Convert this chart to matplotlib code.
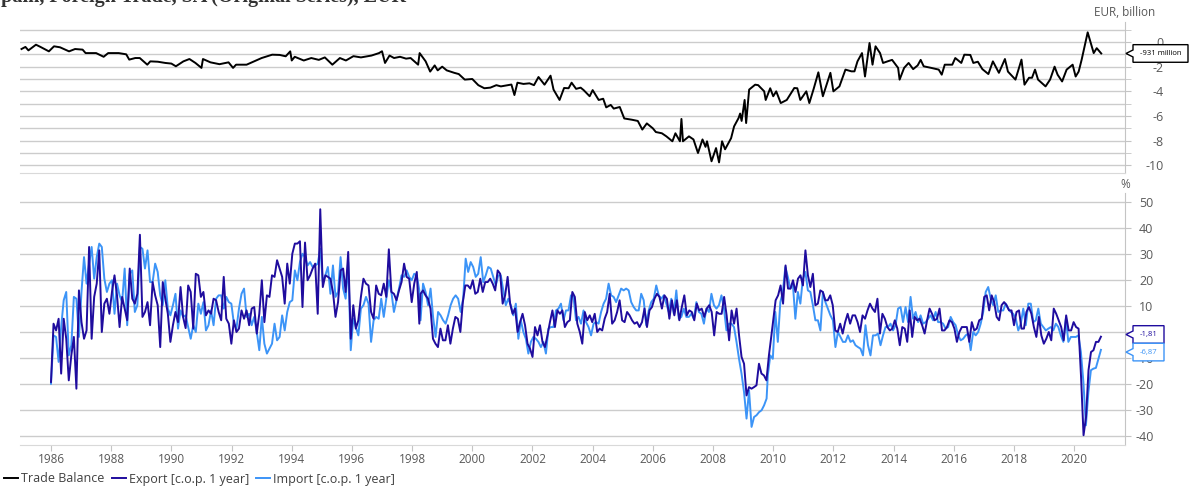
import numpy as np
import matplotlib
matplotlib.use('Agg')
import matplotlib.pyplot as plt
from matplotlib.patches import Polygon
from matplotlib.transforms import IdentityTransform

plt.rcParams['font.family'] = ['Open Sans', 'DejaVu Sans']
plt.rcParams['axes.unicode_minus'] = False

# Trade balance, EUR billion (decimal year, value)
tb_years = [1985.02, 1985.15, 1985.25, 1985.5, 1985.65, 1985.93, 1986.1, 1986.3, 1986.6, 1986.8,
            1987.05, 1987.15, 1987.5, 1987.75, 1987.9, 1988.25, 1988.5, 1988.6, 1988.8, 1988.95,
            1989.2, 1989.3, 1989.55, 1989.8, 1990.0, 1990.15, 1990.4, 1990.6, 1990.8, 1991.0,
            1991.05, 1991.3, 1991.6, 1991.9, 1992.05, 1992.15, 1992.5, 1992.75, 1993.0, 1993.35,
            1993.6, 1993.8, 1993.95, 1994.0, 1994.1, 1994.4, 1994.65, 1994.9, 1995.1, 1995.35,
            1995.6, 1995.8, 1996.05, 1996.3, 1996.65, 1996.9, 1997.0, 1997.1, 1997.25, 1997.4,
            1997.6, 1997.8, 1997.95, 1998.2, 1998.25, 1998.45, 1998.6, 1998.75, 1998.85, 1999.0,
            1999.15, 1999.4, 1999.55, 1999.75, 2000.0, 2000.2, 2000.4, 2000.6, 2000.8, 2000.95,
            2001.3, 2001.4, 2001.5, 2001.7, 2001.9, 2002.05, 2002.2, 2002.4, 2002.6, 2002.7,
            2002.9, 2003.05, 2003.2, 2003.3, 2003.45, 2003.6, 2003.7, 2003.9, 2004.0, 2004.2,
            2004.35, 2004.45, 2004.6, 2004.7, 2004.9, 2005.05, 2005.3, 2005.5, 2005.65, 2005.8,
            2006.0, 2006.1, 2006.3, 2006.45, 2006.65, 2006.75, 2006.9, 2006.95, 2007.0, 2007.2,
            2007.35, 2007.5, 2007.65, 2007.75, 2007.8, 2007.95, 2008.1, 2008.2, 2008.3, 2008.4,
            2008.6, 2008.7, 2008.85, 2008.9, 2008.95, 2009.05, 2009.1, 2009.2, 2009.4, 2009.5,
            2009.7, 2009.75, 2009.9, 2010.0, 2010.1, 2010.25, 2010.45, 2010.7, 2010.8, 2010.9,
            2011.1, 2011.2, 2011.35, 2011.5, 2011.65, 2011.9, 2012.0, 2012.2, 2012.4, 2012.6,
            2012.7, 2012.8, 2012.95, 2013.05, 2013.2, 2013.3, 2013.4, 2013.55, 2013.65, 2013.8,
            2013.95, 2014.15, 2014.2, 2014.35, 2014.5, 2014.65, 2014.8, 2014.9, 2015.0, 2015.25,
            2015.5, 2015.6, 2015.7, 2015.95, 2016.05, 2016.25, 2016.35, 2016.55, 2016.65, 2016.8,
            2016.95, 2017.15, 2017.3, 2017.5, 2017.7, 2017.8, 2018.05, 2018.25, 2018.35, 2018.5,
            2018.6, 2018.7, 2018.8, 2019.05, 2019.2, 2019.35, 2019.45, 2019.6, 2019.75, 2019.95,
            2020.05, 2020.15, 2020.25, 2020.45, 2020.65, 2020.75, 2020.9]
tb_values = [-0.57, -0.4, -0.68, -0.22, -0.4, -0.76, -0.35, -0.43, -0.76, -0.57,
             -0.62, -0.9, -0.9, -1.2, -0.9, -0.9, -1.0, -1.43, -1.3, -1.3,
             -1.84, -1.57, -1.6, -1.7, -1.75, -1.97, -1.57, -1.38, -1.7, -2.1,
             -1.38, -1.65, -1.8, -1.65, -2.1, -1.84, -1.84, -1.57, -1.3, -1.03,
             -1.05, -1.16, -0.76, -1.5, -1.2, -1.5, -1.3, -1.45, -1.25, -1.84,
             -1.3, -1.5, -1.15, -1.25, -1.1, -0.9, -0.75, -1.7, -1.1, -1.3,
             -1.2, -1.35, -1.3, -1.84, -0.9, -1.57, -2.4, -1.9, -2.3, -2.0,
             -2.3, -2.5, -2.6, -3.05, -3.0, -3.5, -3.75, -3.7, -3.5, -3.6,
             -3.45, -4.3, -3.3, -3.4, -3.35, -3.5, -2.84, -3.46, -2.73, -3.86,
             -4.7, -3.73, -3.75, -3.3, -3.8, -3.7, -3.9, -4.4, -3.9, -4.7,
             -4.6, -5.3, -5.1, -5.4, -5.27, -6.2, -6.3, -6.4, -7.1, -6.6,
             -7.0, -7.3, -7.4, -7.65, -8.05, -7.4, -8.05, -6.24, -8.05, -7.65,
             -7.9, -9.0, -7.9, -8.5, -8.05, -9.67, -8.6, -9.76, -8.05, -8.7,
             -7.8, -6.84, -6.16, -5.8, -6.4, -4.7, -6.57, -3.86, -3.46, -3.5,
             -4.0, -4.7, -3.75, -4.4, -4.0, -4.95, -4.7, -3.73, -3.75, -4.7,
             -4.0, -4.95, -3.75, -2.46, -4.4, -2.5, -4.0, -3.6, -2.24, -2.38,
             -2.38, -1.57, -0.9, -2.8, -0.08, -1.84, -0.35, -0.9, -1.7, -1.57,
             -1.45, -2.1, -3.05, -2.1, -1.7, -2.2, -1.9, -1.45, -1.97, -2.1,
             -2.24, -2.65, -1.84, -1.84, -1.3, -1.7, -1.03, -1.05, -1.7, -1.6,
             -2.2, -2.6, -1.57, -2.5, -1.38, -2.4, -3.05, -1.43, -3.46, -2.9,
             -2.9, -2.24, -3.05, -3.6, -3.05, -2.0, -2.65, -3.2, -2.24, -1.84,
             -2.8, -2.4, -1.43, 0.78, -0.9, -0.5, -0.931]

# Export / Import, change over 1 year (%), monthly readings in three stretches
export_spans = [(1986.0, 1998.24), (1998.28, 2009.94), (2010.08, 2020.89)]
export_a = [-19.2, 3.2, 0.6, 5.1, -16, 5.1, -2.6, -18.6, -9, -1.9, -21.8, 16, 3.8, -2.6, 0.6, 32.7,
            -2.6, 13.5, 18.6, 31.4, 0, 10.9, 12.8, 7, 15.4, 21.8, 14, 1.9, 13.5, 9, 4.5, 24.4, 12.8,
            10.9, 14.7, 37.4, 5.8, 7.7, 11.5, 2.6, 19.2, 14.1, 10.3, -5.8, 19.2, 12.8, 7, -3.8, 2.6,
            7.7, 3.8, 17.3, 5.8, 1.5, 17.9, 15.4, 1.3, 22.4, 21.8, 13.5, 15.4, 6.4, 8.3, 7, 12.8,
            12.2, 7.7, 4.5, 21.2, 5.1, 3.2, -4.5, 4.5, 0, 1.3, 8.3, 5.1, 8.3, 2.6, 9, 9.6, -0.6, 7,
            19.9, 3.8, 14.1, 13.5, 21.8, 21.2, 27.6, 24.4, 21.2, 10.9, 26.3, 18.6, 30.1, 34, 34,
            34.9, 9.6, 34.4, 19.9, 21.8, 24.4, 26.3, 7, 47.2, 17.3, 21.8, 21.2, 20.5, 15.4, 5.8,
            11.5, 23.7, 24.4, 15.4, 30.8, -2.6, 10.3, 1.3, 4.5, 13.5, 20.5, 18.6, 17.9, 7.7, 5.1,
            17.9, 14.7, 14.1, 18.6, 13.5, 31.8, 15.4, 14.7, 12.2, 16, 19.2, 26.3, 21.2, 20.5, 11.5,
            18.6, 23.1, 3.2]
export_b = [14.7, 16, 14.1, 12.8, 9, -2.6, -4.5, -5.8, 1.3, -3.2, -3.2, 2.6, -4.5, 1.3, 5.8, 5.1,
            0, 11.5, 17.9, 17.9, 16.7, 19.9, 14.7, 15.4, 20.5, 15.4, 19.2, 19.2, 20.5, 18.6, 16,
            23.7, 22.4, 10.9, 14.1, 21.2, 10.9, 7, 9, 0, 3.8, 7, 2.6, -4.5, -6.4, -9.6, 1.9, -1.3,
            2.6, -3.8, -5.8, -1.3, 3.8, 8.3, 1.9, 8.3, 7, 8.3, 1.9, 3.8, 4.5, 15.4, 13.5, 3.2, 0,
            -4.5, 7.7, 4.5, 6.4, 3.8, 7, 0, 1.3, 0.6, 5.1, 7.7, 14.7, 3.2, 4.5, 7.7, 12.2, 4.5, 3.8,
            7.7, 6.4, 4.5, 3.2, 3.8, 1.9, 3.8, 9, 1.9, 8.3, 9.6, 12.8, 14.7, 13.5, 9, 14.1, 12.8,
            5.1, 12.2, 6.4, 12.2, 4.5, 9.6, 14.1, 6.4, 8.3, 7.7, 4.5, 10.9, 8.3, 9, 5.8, 9, 10.3,
            7.7, -1.3, 7.7, 7, 7, 13.5, 6.4, -3.2, 8.3, 3.2, 9, -1.3, -9.6, -12.2, -24.4, -21.2,
            -21.8, -21.2, -20.5, -12.2, -16, -16.7, -18.6, -9, -1.3]
export_c = [12.2, 14.1, 17.9, 10.9, 25.6, 16.7, 16.7, 19.9, 15.4, 20.5, 21.8, 17.9, 31.4, 21.8,
            17.3, 22.4, 10.3, 10.9, 16, 15.4, 12.2, 12.2, 14.1, 10.3, 0.6, 0, 3.2, -0.6, 3.8, 7,
            3.2, 6.4, 6.4, 3.8, 0, 6.4, 5.1, 8.3, 10.9, 9, 7.7, 12.8, -0.6, 7, 5.1, 1.9, 0.6, 1.3,
            4.5, 1.3, -5.1, 1.9, 1.3, -3.8, 8.3, -1.9, 5.8, 4.5, 5.1, 2.6, -0.6, 4.5, 9, 7, 4.5,
            5.1, 9, 0.6, 0.6, 1.9, 4.5, 3.8, 1.3, -3.8, 0, 1.9, 1.9, 1.9, -3.8, 3.8, 0.6, 1.3, 4.5,
            5.1, 13.5, 14.1, 8.3, 14.1, 11.5, 5.8, 4.5, 10.3, 11.5, 10.3, 8.3, 8.3, 2.6, 7.7, 8.3,
            1.3, 1.3, 7.7, 9.6, 7, 1.9, -1.9, 5.8, -1.3, -4.5, -2.6, 0, -3.2, 9, 7, 4.5, 1.9, -3.2,
            6.4, 0.6, 0.6, 3.8, 1.9, 1.3, -17.3, -39.7, -32.7, -14.7, -7.7, -7, -3.8, -3.8, -1.81]

import_spans = [(1986.0, 1998.24), (1998.28, 2009.78), (2009.82, 2020.89)]
import_a = [-19.9, -1.3, -1.9, -11.5, 1.9, 12.2, 15.4, -9, -5.1, 13.5, 12.8, -1.9, 15.4, 28.8,
            18.6, 26.3, 32.7, 20.5, 28.8, 34, 32.7, 20.5, 15.4, 18.6, 19.9, 7, 18.6, 14.1, 11.5,
            24.4, 2.6, 22.4, 23.7, 7.7, 10.3, 32.7, 32, 24.4, 31.4, 19.2, 19.2, 26.3, 23.1, 14.1,
            10.3, 19.9, 9, 6.4, 10.3, 14.7, 1.3, 8.3, 5.8, 6.4, 1.9, -2.6, 2.6, 0, 10.9, 7, 11.5,
            0.6, 2.6, 8.3, 2.6, 12.8, 14.1, 14.1, 9, 13.5, 11.5, 10.9, 3.2, 1.3, 9, 14.7, 16.7, 5.8,
            7, 2.6, 5.8, 0, -7, 5.8, -4.5, -8.3, -6.4, -4.5, 3.2, -3.2, -1.9, 6.4, 0.6, 7.7, 11.5,
            12.2, 23.7, 19.9, 26.9, 30.1, 28.8, 25.6, 26.9, 25, 25.6, 26.3, 32, 19.2, 21.8, 25,
            14.7, 25.6, 13.5, 15.4, 28.8, 16.7, 12.8, 26.9, -7, 5.1, 1.9, -1.3, 9, 10.3, 13.5, 10.9,
            -3.8, 4.5, 5.8, 5.1, 12.8, 5.8, 12.8, 19.9, 15.4, 7.7, 12.2, 16.7, 21.8, 21.2, 23.7,
            21.2, 19.9, 22.4, 21.8, 16]
import_b = [4.5, 18.6, 15.4, 10.3, 16.7, 5.8, -1.9, 7.7, 6.4, 4.5, 3.2, 6.4, 10.3, 12.8, 14.1,
            12.8, 7.7, 12.8, 28.2, 23.1, 26.9, 25, 21.2, 22.4, 28.8, 19.2, 21.8, 25, 24.4, 21.2,
            17.9, 21.8, 21.8, 16, 10.3, 12.8, 10.3, 6.4, 10.9, -2.6, 4.5, 0, -2.6, -8.3, -3.8, -1.9,
            -2.6, -3.8, -5.8, -3.8, -8.3, 1.3, 1.9, 1.9, 8.3, 9, 10.9, 4.5, 8.3, 8.3, 14.1, 13.5,
            4.5, 5.8, 3.2, 8.3, 3.8, 1.9, -1.3, 3.2, 3.8, 3.2, 7.7, 10.9, 12.8, 18.6, 14.1, 13.5,
            11.5, 14.1, 16.7, 16, 16.7, 16, 11.5, 9.6, 8.3, 8.3, 14.7, 12.2, 2.6, 8.3, 11.5, 12.8,
            17.9, 14.1, 12.8, 14.1, 10.9, 7.7, 12.8, 7, 16, 5.1, 5.8, 9, 5.8, 5.8, 7, 5.1, 11.5, 7.7,
            7, 3.2, 9, 7.7, 14.7, 10.3, 9, 10.3, 14.1, 9, 0.6, 3.2, 3.2, 1.9, -3.8, -10.3, -16,
            -23.1, -33.3, -22.4, -36.5, -32.7, -32, -30.8, -30.1, -28.2, -25.6]
import_c = [-16.7, -9, -10.3, 7.7, -3.8, 11.5, 15.4, 25, 21.2, 16.7, 18.6, 5.1, 15.4, 10.9, 20.5,
            23.1, 16, 15.4, 10.3, 4.5, 4.5, 0.6, 15.4, 11.5, 9, 6.4, 4.5, -5.8, 0, -1.9, -3.8, -3.8,
            -1.3, -3.8, -3.2, -5.1, -5.8, -6.4, -9, 2.6, -5.1, -9, -1.3, -1.3, -0.6, -5.1, -1.3, 1.9,
            1.9, 3.2, 0.6, 2.6, 9, 9.6, 3.8, 9.6, 3.8, 13.5, 5.1, 7.7, 3.8, 6.4, 3.2, 3.8, 5.1, 6.4,
            4.5, 7.7, 3.8, 3.8, 3.2, 1.3, 1.9, 5.8, 3.8, 2.6, -1.3, -3.2, -2.6, -1.3, -0.6, -7, 0,
            -1.3, 0, 3.2, 7.7, 15.4, 17.3, 12.8, 10.3, 14.1, 7.7, 8.3, 8.3, 10.9, 9, 7.7, 7, 5.1,
            0.6, 3.2, 9, 2.6, 10.9, 10.9, 3.8, 4.5, 9, 3.2, 1.9, 0.6, 1.3, 1.9, 0.6, 3.2, 1.9, -1.3,
            -3.8, 5.1, -3.8, -1.9, -1.9, -1.9, -1.3, -7.7, -19.2, -35.9, -23.1, -14.7, -14.1,
            -13.8, -10.3, -6.87]

year_ticks = list(range(1986, 2021, 2))
title = 'Spain, Foreign Trade, SA (Original Series), EUR'


def stitch(spans, parts):
    xs, ys = [], []
    for (a, b), vals in zip(spans, parts):
        xs.extend(np.linspace(a, b, len(vals)))
        ys.extend(vals)
    return np.array(xs), np.array(ys)


exp_x, exp_y = stitch(export_spans, [export_a, export_b, export_c])
imp_x, imp_y = stitch(import_spans, [import_a, import_b, import_c])

C_TB, C_EXP, C_IMP = 'black', '#1f0c9e', '#3c94f7'
GRID, SPINE, TXT = '#cccccc', '#c4c4c4', '#595959'

W, H = 1195, 488
fig = plt.figure(figsize=(W / 100, H / 100), dpi=100)
ax1 = fig.add_axes([20 / W, 1 - 173 / H, 1105 / W, 151 / H])
ax2 = fig.add_axes([20 / W, 1 - 445 / H, 1105 / W, 252 / H])

l_tb, = ax1.plot(tb_years, tb_values, color=C_TB, lw=1.4, label='Trade Balance')
l_imp, = ax2.plot(imp_x, imp_y, color=C_IMP, lw=1.4, label='Import [c.o.p. 1 year]')
l_exp, = ax2.plot(exp_x, exp_y, color=C_EXP, lw=1.4, label='Export [c.o.p. 1 year]')

for ax in (ax1, ax2):
    ax.set_xlim(1984.97, 2021.69)
    for s in ('left', 'top'):
        ax.spines[s].set_visible(False)
    ax.spines['right'].set_color(SPINE)
    ax.spines['bottom'].set_color('#d9d9d9')
    ax.yaxis.tick_right()
    ax.tick_params(axis='y', which='both', color=SPINE, length=4, labelcolor=TXT, labelsize=9)
    ax.grid(axis='y', which='both', color=GRID, lw=1)
    ax.set_axisbelow(True)

ax1.set_ylim(-10.62, 1.62)
ax1.set_yticks(range(-10, 1, 2))
ax1.set_yticks([-9, -7, -5, -3, -1, 1], minor=True)
ax1.tick_params(axis='y', pad=23.7)
ax1.tick_params(axis='x', bottom=False, labelbottom=False)
for lab in ax1.get_yticklabels():
    lab.set_ha('right')

ax2.set_ylim(-43.46, 53.46)
ax2.set_yticks(range(-40, 51, 10))
ax2.tick_params(axis='y', pad=16.5)
for lab in ax2.get_yticklabels():
    lab.set_ha('right')
ax2.set_xticks(year_ticks)
ax2.tick_params(axis='x', color=SPINE, length=4, labelcolor=TXT, labelsize=8.5, pad=2)

fig.text(1125 / W, 1 - 13 / H, 'EUR, billion', ha='center', va='center', color=TXT, size=8.5)
fig.text(1125 / W, 1 - 185 / H, '%', ha='center', va='center', color=TXT, size=8.5)
# page title, mostly above the top edge as in the source
fig.text(-10 / W, 1 - 2 / H, title, family=['Liberation Serif', 'DejaVu Serif'], weight='bold',
         size=14.5, va='baseline', ha='left', color='#333333')

fig.legend(handles=[l_tb, l_exp, l_imp], loc='center left', bbox_to_anchor=(4 / W, 1 - 479 / H),
           ncol=3, frameon=False, fontsize=9, handlelength=1.1, handletextpad=0.25,
           columnspacing=0.6, labelcolor='#404040', borderaxespad=0, borderpad=0)


def callout(ax, centers, texts, colors, box_w, box_h=17.6):
    x_tip = ax.transData.transform((ax.get_xlim()[1], 0))[0] + 1
    left = x_tip + 7
    for c, s, col in zip(centers, texts, colors):
        verts = [(x_tip, c), (left, c + 3.5), (left, c + box_h / 2), (left + box_w, c + box_h / 2),
                 (left + box_w, c - box_h / 2), (left, c - box_h / 2), (left, c - 3.5)]
        fig.add_artist(Polygon(verts, closed=True, facecolor='white', edgecolor=col, lw=1,
                               transform=IdentityTransform()))
        fig.text(left + box_w / 2, c, s, transform=IdentityTransform(), ha='center',
                 va='center', size=5.5, color=col)


# top panel label at last value
y_last = ax1.transData.transform((0, tb_values[-1]))[1]
callout(ax1, [y_last], ['-931 million'], [C_TB], 55)

# bottom labels, pushed apart so the boxes touch but do not overlap
y_e = ax2.transData.transform((0, exp_y[-1]))[1]
y_i = ax2.transData.transform((0, imp_y[-1]))[1]
gap = 17.6 - (y_e - y_i)
if gap > 0:
    y_e += gap / 2
    y_i -= gap / 2
callout(ax2, [y_e, y_i], ['-1,81', '-6,87'], [C_EXP, C_IMP], 31)

fig.savefig('out.png', dpi=100)
